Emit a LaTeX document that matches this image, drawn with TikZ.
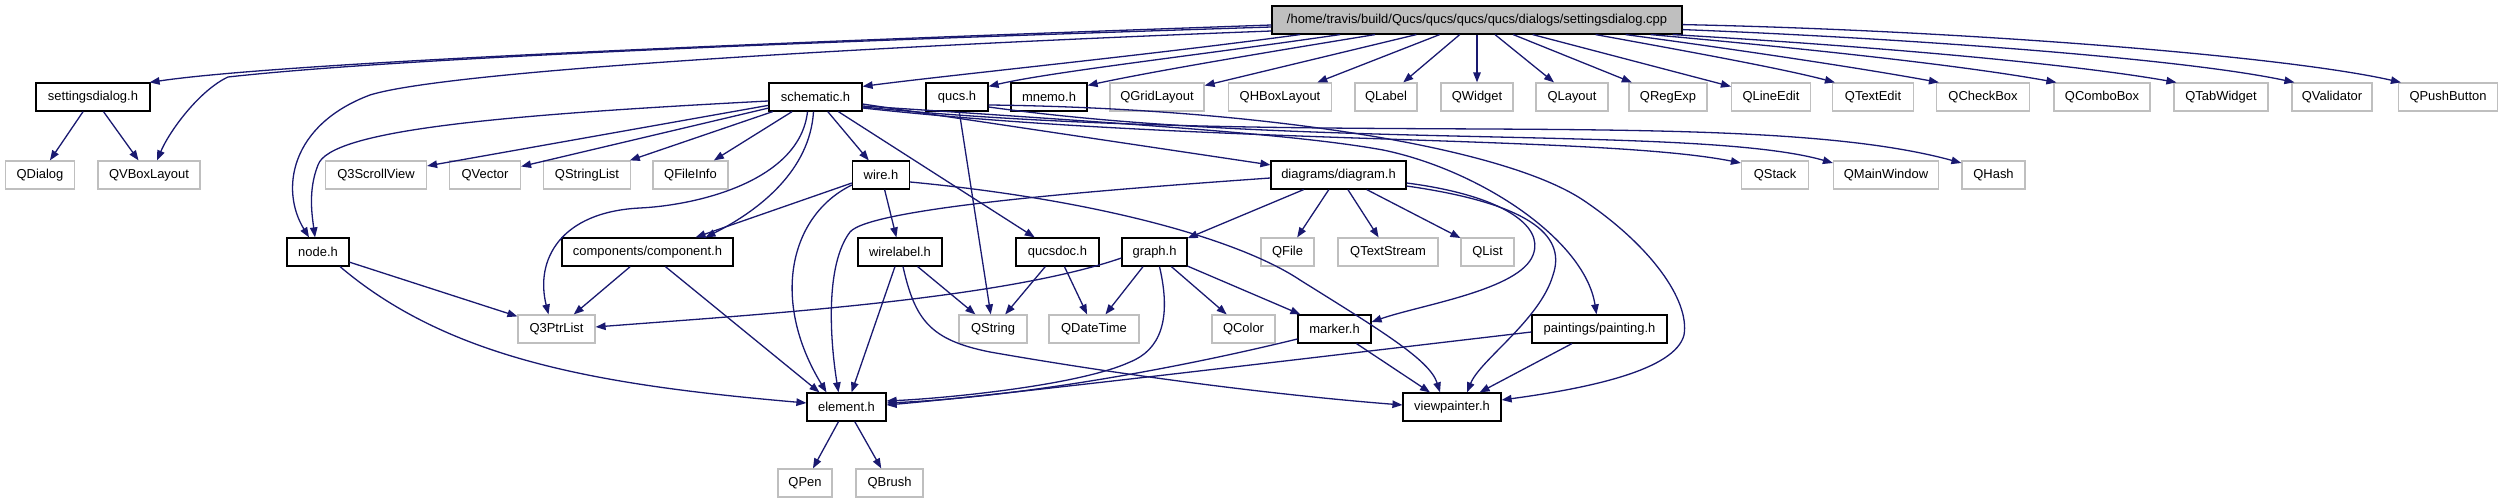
\documentclass[tikz,border=0pt]{standalone}
\usepackage{fontspec}
\setmainfont{Liberation Sans}
\usetikzlibrary{arrows.meta}
\definecolor{edgeblue}{HTML}{191970}
\definecolor{qgray}{HTML}{BFBFBF}
\begin{document}
\begin{tikzpicture}[x=1bp,y=-1bp,
  box/.style={rectangle,draw,inner sep=0pt,minimum height=28bp,font=\fontsize{13}{15}\selectfont,line width=1.2bp},
  dep/.style={box,draw=black},
  ext/.style={box,draw=qgray},
  rootbox/.style={box,draw=black,fill=qgray},
  edge/.style={draw=edgeblue,line width=1.3bp,-{Triangle[length=10bp,width=7.5bp]}}
]
\useasboundingbox (0,0) rectangle (2503,504);
% row 0
\node[rootbox,minimum width=410bp] (root) at (1477,20) {/home/travis/build/Qucs/qucs/qucs/qucs/dialogs/settingsdialog.cpp};
% row 1
\node[dep,minimum width=114bp] (sd) at (93,97) {settingsdialog.h};
\node[dep,minimum width=93bp] (sch) at (815.5,97) {schematic.h};
\node[dep,minimum width=62bp] (qucs) at (957,97) {qucs.h};
\node[dep,minimum width=76bp] (mnemo) at (1049,97) {mnemo.h};
\node[ext,minimum width=94bp] (qgrid) at (1157,97) {QGridLayout};
\node[ext,minimum width=103bp] (qhbox) at (1280,97) {QHBoxLayout};
\node[ext,minimum width=62bp] (qlabel) at (1386,97) {QLabel};
\node[ext,minimum width=72bp] (qwidget) at (1477,97) {QWidget};
\node[ext,minimum width=72bp] (qlayout) at (1572,97) {QLayout};
\node[ext,minimum width=78bp] (qregexp) at (1668,97) {QRegExp};
\node[ext,minimum width=79bp] (qlineedit) at (1771,97) {QLineEdit};
\node[ext,minimum width=81bp] (qtextedit) at (1873,97) {QTextEdit};
\node[ext,minimum width=93bp] (qcheckbox) at (1983,97) {QCheckBox};
\node[ext,minimum width=96bp] (qcombobox) at (2102,97) {QComboBox};
\node[ext,minimum width=94bp] (qtabwidget) at (2221,97) {QTabWidget};
\node[ext,minimum width=80bp] (qvalidator) at (2332,97) {QValidator};
\node[ext,minimum width=99bp] (qpushbutton) at (2448,97) {QPushButton};
% row 2
\node[ext,minimum width=69bp] (qdialog) at (40,175) {QDialog};
\node[ext,minimum width=102bp] (qvbox) at (149,175) {QVBoxLayout};
\node[ext,minimum width=101bp] (q3scroll) at (376,175) {Q3ScrollView};
\node[ext,minimum width=71bp] (qvector) at (485,175) {QVector};
\node[ext,minimum width=87bp] (qstringlist) at (587,175) {QStringList};
\node[ext,minimum width=75bp] (qfileinfo) at (690.5,175) {QFileInfo};
\node[dep,minimum width=57bp] (wire) at (881,175) {wire.h};
\node[dep,minimum width=135bp] (diagram) at (1338.5,175) {diagrams/diagram.h};
\node[ext,minimum width=67bp] (qstack) at (1775,175) {QStack};
\node[ext,minimum width=105bp] (qmainwindow) at (1886,175) {QMainWindow};
\node[ext,minimum width=63bp] (qhash) at (1993.5,175) {QHash};
% row 3
\node[dep,minimum width=62bp] (nodeh) at (318,252) {node.h};
\node[dep,minimum width=171bp] (comp) at (647.5,252) {components/component.h};
\node[dep,minimum width=84bp] (wirelabel) at (900,252) {wirelabel.h};
\node[dep,minimum width=83bp] (qucsdoc) at (1057.5,252) {qucsdoc.h};
\node[dep,minimum width=65bp] (graph) at (1154.5,252) {graph.h};
\node[ext,minimum width=53bp] (qfile) at (1287.5,252) {QFile};
\node[ext,minimum width=100bp] (qtextstream) at (1388,252) {QTextStream};
\node[ext,minimum width=53bp] (qlist) at (1487.5,252) {QList};
% row 4
\node[ext,minimum width=77bp] (q3ptr) at (556.5,329) {Q3PtrList};
\node[ext,minimum width=68bp] (qstring) at (993,329) {QString};
\node[ext,minimum width=90bp] (qdatetime) at (1094,329) {QDateTime};
\node[ext,minimum width=63bp] (qcolor) at (1243.5,329) {QColor};
\node[dep,minimum width=73bp] (marker) at (1334.5,329) {marker.h};
\node[dep,minimum width=135bp] (painting) at (1599.5,329) {paintings/painting.h};
% row 5
\node[dep,minimum width=79bp] (element) at (846.5,407) {element.h};
\node[dep,minimum width=98bp] (viewp) at (1452,407) {viewpainter.h};
% row 6
\node[ext,minimum width=54bp] (qpen) at (805,483) {QPen};
\node[ext,minimum width=67bp] (qbrush) at (889.5,483) {QBrush};

% ---- edges from root
\draw[edge] ([yshift=-5bp]root.west) .. controls (900,38) and (300,60) .. ([xshift=-1bp]sd.north east);
\draw[edge] ([yshift=-7bp]root.west) .. controls (800,42) and (400,58) .. (228,77) .. controls (200,90) and (170,130) .. ([xshift=8bp]qvbox.north);
\draw[edge] ([yshift=-11bp]root.west) .. controls (900,45) and (450,70) .. (370,95) .. controls (290,125) and (280,190) .. ([xshift=-9bp]nodeh.north);
\draw[edge] ([xshift=-177bp]root.south) .. controls (1150,55) and (950,75) .. ([yshift=-4bp]sch.north east);
\draw[edge] ([xshift=-137bp]root.south) .. controls (1200,55) and (1050,72) .. ([yshift=-4bp]qucs.north east);
\draw[edge] ([xshift=-102bp]root.south) .. controls (1250,55) and (1150,72) .. ([yshift=-3bp]mnemo.north east);
\draw[edge] (root) -- (qgrid);
\draw[edge] (root) -- (qhbox);
\draw[edge] (root) -- (qlabel);
\draw[edge] (root) -- (qwidget);
\draw[edge] (root) -- (qlayout);
\draw[edge] (root) -- (qregexp);
\draw[edge] (root) -- (qlineedit);
\draw[edge] ([xshift=-87bp]root.south east) .. controls (1680,50) and (1780,68) .. ([xshift=3bp]qtextedit.north west);
\draw[edge] ([xshift=-57bp]root.south east) .. controls (1740,50) and (1860,68) .. ([xshift=3bp]qcheckbox.north west);
\draw[edge] ([xshift=-32bp]root.south east) .. controls (1800,48) and (1960,65) .. ([xshift=3bp]qcombobox.north west);
\draw[edge] ([xshift=-10bp]root.south east) .. controls (1850,45) and (2060,62) .. ([xshift=3bp]qtabwidget.north west);
\draw[edge] ([yshift=5bp]root.south east) .. controls (1900,38) and (2180,58) .. ([xshift=3bp]qvalidator.north west);
\draw[edge] ([yshift=10bp]root.south east) .. controls (1950,30) and (2280,55) .. ([xshift=3bp]qpushbutton.north west);

% ---- settingsdialog.h
\draw[edge] (sd) -- (qdialog);
\draw[edge] (sd) -- (qvbox);

% ---- schematic.h
\draw[edge] ([yshift=-4bp]sch.west) .. controls (500,115) and (330,130) .. (318,165) .. controls (308,190) and (312,215) .. ([xshift=-3bp]nodeh.north);
\draw[edge] (sch) -- (q3scroll);
\draw[edge] (sch) -- (qvector);
\draw[edge] (sch) -- (qstringlist);
\draw[edge] (sch) -- (qfileinfo);
\draw[edge] ([xshift=-8bp]sch.south) .. controls (800,180) and (700,205) .. (640,208) .. controls (560,212) and (535,260) .. ([xshift=-8bp]q3ptr.north);
\draw[edge] ([xshift=-2bp]sch.south) .. controls (810,170) and (760,210) .. ([xshift=58bp]comp.north);
\draw[edge] (sch) -- (wire);
\draw[edge] (sch) -- (qucsdoc);
\draw[edge] (sch) -- (diagram);
\draw[edge] ([yshift=-9bp]sch.east) .. controls (1150,125) and (1300,135) .. (1383,150) .. controls (1480,170) and (1585,240) .. ([xshift=-3bp]painting.north);
\draw[edge] ([yshift=-11bp]sch.east) .. controls (1200,145) and (1600,135) .. ([yshift=12bp]qstack.west);
\draw[edge] ([yshift=-10bp]sch.east) .. controls (1300,150) and (1750,105) .. ([yshift=12bp]qhash.west);

% ---- qucs.h
\draw[edge] (qucs) -- (qstring);
\draw[edge] ([yshift=-10bp]qucs.east) .. controls (1300,150) and (1700,125) .. ([yshift=12bp]qmainwindow.west);
\draw[edge] ([yshift=-8bp]qucs.east) .. controls (1250,108) and (1500,145) .. (1583,200) .. controls (1650,245) and (1690,300) .. (1684,335) .. controls (1675,370) and (1590,388) .. ([yshift=7bp]viewp.east);

% ---- diagram.h
\draw[edge] (diagram) -- (graph);
\draw[edge] (diagram) -- (qfile);
\draw[edge] (diagram) -- (qtextstream);
\draw[edge] (diagram) -- (qlist);
\draw[edge] ([yshift=-3bp]diagram.west) .. controls (1100,190) and (870,208) .. (850,232) .. controls (825,265) and (830,340) .. ([xshift=-8bp]element.north);
\draw[edge] ([yshift=-8bp]diagram.east) .. controls (1500,195) and (1545,225) .. (1533,255) .. controls (1520,290) and (1420,305) .. ([yshift=7bp]marker.east);
\draw[edge] ([yshift=-11bp]diagram.east) .. controls (1540,205) and (1565,240) .. (1553,275) .. controls (1540,320) and (1480,360) .. ([xshift=15bp]viewp.north);

% ---- wire.h
\draw[edge] (wire) -- (wirelabel);
\draw[edge] ([yshift=-8bp]wire.west) -- ([xshift=48bp]comp.north);
\draw[edge] ([yshift=-10bp]wire.west) .. controls (790,215) and (770,300) .. ([xshift=-20bp]element.north);
\draw[edge] ([yshift=-7bp]wire.east) .. controls (1100,200) and (1240,240) .. (1300,280) .. controls (1380,330) and (1430,360) .. ([xshift=-12bp]viewp.north);

% ---- node.h
\draw[edge] (nodeh) -- (q3ptr);
\draw[edge] ([xshift=22bp]nodeh.south) .. controls (450,360) and (600,385) .. ([yshift=4bp]element.west);

% ---- components/component.h
\draw[edge] (comp) -- (q3ptr);
\draw[edge] (comp) -- ([xshift=-27bp]element.north);

% ---- wirelabel.h
\draw[edge] (wirelabel) -- (element);
\draw[edge] (wirelabel) -- (qstring);
\draw[edge] ([xshift=3bp]wirelabel.south) .. controls (915,320) and (930,340) .. (990,352) .. controls (1150,380) and (1300,397) .. ([yshift=2bp]viewp.west);

% ---- qucsdoc.h
\draw[edge] (qucsdoc) -- (qstring);
\draw[edge] (qucsdoc) -- (qdatetime);

% ---- graph.h
\draw[edge] ([yshift=-6bp]graph.west) .. controls (1000,300) and (750,315) .. ([yshift=2bp]q3ptr.east);
\draw[edge] (graph) -- (qdatetime);
\draw[edge] (graph) -- (qcolor);
\draw[edge] (graph) -- (marker);
\draw[edge] ([xshift=5bp]graph.south) .. controls (1172,320) and (1160,350) .. (1130,362) .. controls (1080,385) and (950,398) .. ([yshift=6bp]element.east);

% ---- marker.h
\draw[edge] ([yshift=-10bp]marker.west) .. controls (1150,375) and (1000,398) .. ([yshift=4bp]element.east);
\draw[edge] (marker) -- (viewp);

% ---- paintings/painting.h
\draw[edge] ([yshift=-3bp]painting.west) .. controls (1250,365) and (1000,395) .. ([yshift=2bp]element.east);
\draw[edge] (painting) -- (viewp);

% ---- element.h
\draw[edge] (element) -- (qpen);
\draw[edge] (element) -- (qbrush);
\end{tikzpicture}
\end{document}
